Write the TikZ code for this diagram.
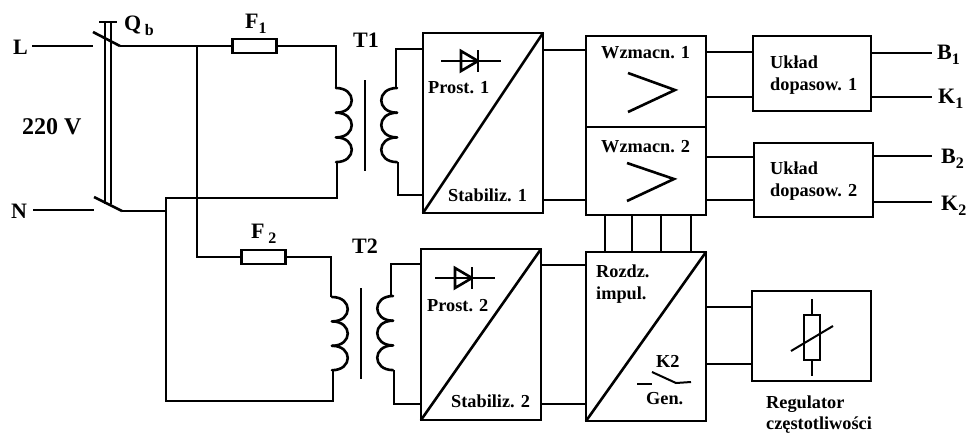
\documentclass[tikz,border=0pt]{standalone}
\usepackage{fontspec}
\setmainfont{Liberation Serif}[BoldFont={Liberation Serif Bold}]
\newcommand\subs[1]{\raisebox{-5pt}{\fontsize{16}{16}\selectfont #1}}
% x, y-top, control x, step
\newcommand\coildraw[4]{%
  \foreach \i in {0,1,2}{%
    \pgfmathsetmacro\ya{#2+\i*#4}\pgfmathsetmacro\yb{#2+(\i+1)*#4}%
    \draw[wire,line cap=round] (#1,\ya) .. controls (#3,\ya) and (#3,\yb) .. (#1,\yb);
  }}
\begin{document}
\begin{tikzpicture}[x=1pt,y=-1pt,
  wire/.style={line width=2.6pt,line join=miter},
  thin wire/.style={line width=2pt},
  blockbox/.style={draw,line width=2.8pt,inner sep=0pt,outer sep=0pt,fill=white},
  fusebox/.style={draw,line width=2.2pt,inner sep=0pt,outer sep=0pt,fill=white,minimum width=44pt,minimum height=14pt},
  big/.style={anchor=base west,inner sep=0pt,font=\fontsize{22}{22}\selectfont\bfseries},
  lab/.style={anchor=base west,inner sep=0pt,font=\fontsize{18.3}{18}\selectfont\bfseries}]
\useasboundingbox (0,0) rectangle (967,432);
% blocks
\node[blockbox,minimum width=120pt,minimum height=180pt] (pr1) at (483,123) {};
\node[blockbox,minimum width=120pt,minimum height=171pt] (pr2) at (481,334.5) {};
\node[blockbox,minimum width=120pt,minimum height=91pt] (wz1) at (646,81.5) {};
\node[blockbox,minimum width=120pt,minimum height=88pt] (wz2) at (646,171) {};
\node[blockbox,minimum width=120pt,minimum height=169pt] (roz) at (646,336.5) {};
\node[blockbox,minimum width=118pt,minimum height=75pt] (uk1) at (812,73.5) {};
\node[blockbox,minimum width=119pt,minimum height=74pt] (uk2) at (813.5,180) {};
\node[blockbox,minimum width=119pt,minimum height=90pt] (reg) at (811.5,336) {};
\draw[wire] (pr1.south west) -- (pr1.north east);
\draw[wire] (pr2.south west) -- (pr2.north east);
\draw[wire] (roz.south west) -- (roz.north east);
% fuses
\node[fusebox] (f1) at (254.5,46) {};
\node[fusebox] (f2) at (263.5,257) {};
% free ends
\coordinate (Lend) at (32,46);
\coordinate (Lfix) at (93,46);
\coordinate (Lpiv) at (120,46);
\coordinate (Lblade) at (93,32);
\coordinate (Nend) at (33,210);
\coordinate (Nfix) at (94,210);
\coordinate (Npiv) at (122,211);
\coordinate (Nblade) at (94,197);
\coordinate (j1) at (197,46);
\coordinate (j2) at (166,211);
% mains
\draw[wire] (Lend) -- (Lfix);
\draw[wire] (Lblade) -- (Lpiv);
\draw[wire] (Lpiv) -- (f1.west);
\draw[wire] (Nend) -- (Nfix);
\draw[wire] (Nblade) -- (Npiv);
\draw[wire] (Npiv) -- (j2);
% breaker ganging
\coordinate (qa) at (105,22); \coordinate (qb) at (111,22);
\draw[line width=1.8pt] (qa) -- (105,204);
\draw[line width=1.8pt] (qb) -- (111,204);
\draw[line width=1.8pt] (99,22) -- (117,22);
% T1 primary
\draw[wire] (f1.east) -- (336,46) -- (336,88);
\coildraw{336}{88}{357}{24.7}
\draw[wire] (337,162) -- (337,198) -- (166,198) -- (j2) -- (166,401) -- (333,401) -- (333,370);
\draw[wire] (j1) -- (197,257) -- (f2.west);
% T2 primary
\draw[wire] (f2.east) -- (331,257) -- (331,297);
\coildraw{332}{297}{353}{24.4}
% cores
\draw[line width=1.6pt] (365,80) -- (365,171);
\draw[line width=1.6pt] (361,288) -- (361,379);
% secondaries
\draw[wire] (pr1.west |- 0,49) -- (396,49) -- (396,88);
\coildraw{397}{88}{376}{24.7}
\draw[wire] (398,162) -- (398,195) -- (pr1.west |- 0,195);
\draw[wire] (pr2.west |- 0,264) -- (391,264) -- (391,296);
\coildraw{393}{296}{372}{24.7}
\draw[wire] (394,370) -- (394,404) -- (pr2.west |- 0,404);
% block interconnections
\draw[wire] (pr1.east |- 0,50) -- (wz1.west |- 0,50);
\draw[wire] (pr1.east |- 0,200) -- (wz2.west |- 0,200);
\draw[wire] (pr2.east |- 0,265) -- (roz.west |- 0,265);
\draw[wire] (pr2.east |- 0,404) -- (roz.west |- 0,404);
\draw[wire] (wz1.east |- 0,52) -- (uk1.west |- 0,52);
\draw[wire] (wz1.east |- 0,97) -- (uk1.west |- 0,97);
\draw[wire] (wz2.east |- 0,157) -- (uk2.west |- 0,157);
\draw[wire] (wz2.east |- 0,200) -- (uk2.west |- 0,200);
\foreach \x in {605,632,661,691}
  \draw[wire] (\x,0 |- wz2.south) -- (\x,0 |- roz.north);
\draw[wire] (roz.east |- 0,307) -- (reg.west |- 0,307);
\draw[wire] (roz.east |- 0,364) -- (reg.west |- 0,364);
% outputs
\coordinate (b1) at (932,53); \coordinate (k1) at (932,97);
\coordinate (b2) at (932,156); \coordinate (k2) at (932,202);
\draw[wire] (uk1.east |- b1) -- (b1);
\draw[wire] (uk1.east |- k1) -- (k1);
\draw[wire] (uk2.east |- b2) -- (b2);
\draw[wire] (uk2.east |- k2) -- (k2);
% diodes
\draw[thin wire] (441,61) -- (501,61);
\draw[wire] (461,51) -- (478,61) -- (461,71) -- cycle;
\draw[thin wire] (478,50) -- (478,72);
\draw[thin wire] (435,278) -- (495,278);
\draw[wire] (455,268) -- (472,278) -- (455,288) -- cycle;
\draw[thin wire] (472,267) -- (472,289);
% amplifier symbols
\draw[wire] (628,73) -- (675,90) -- (628,112);
\draw[wire] (627,163) -- (674,179) -- (627,201);
% K2 contact
\draw[line width=2.8pt] (637,384) -- (652,384);
\draw[thin wire] (652,372) -- (676,383) -- (691,382);
% variable resistor
\node[draw,line width=2.4pt,inner sep=0pt,outer sep=0pt,minimum width=16pt,minimum height=45pt] (res) at (812,337.5) {};
\coordinate (rt) at (812,299); \coordinate (rb) at (812,376);
\draw[wire] (rt) -- (res.north);
\draw[wire] (res.south) -- (rb);
\draw[thin wire] (791,351) -- (833,326);
% texts
\node[big] (tL) at (13,54) {L};
\node[big] (tN) at (11,218) {N};
\node[big,font=\fontsize{24}{24}\selectfont\bfseries] (t220) at (22,134) {220 V};
\node[big] (tQ) at (124,30) {Q\,\subs{b}};
\node[big] (tF1) at (245,28) {F\subs{1}};
\node[big] (tF2) at (251,238) {F\,\subs{2}};
\node[big] (tT1) at (353,47) {T1};
\node[big] (tT2) at (352,253) {T2};
\node[big] (tB1) at (937,59) {B\subs{1}};
\node[big] (tK1) at (938,103) {K\subs{1}};
\node[big] (tB2) at (941,163) {B\subs{2}};
\node[big] (tK2) at (941,210) {K\subs{2}};
\node[lab] (p1) at (428,93) {Prost. 1};
\node[lab] (s1) at (448,201) {Stabiliz. 1};
\node[lab] (p2) at (427,311) {Prost. 2};
\node[lab] (s2) at (451,407) {Stabiliz. 2};
\node[lab] (w1) at (601,58) {Wzmacn. 1};
\node[lab] (w2) at (601,152) {Wzmacn. 2};
\node[lab] (r1) at (596,277) {Rozdz.};
\node[lab] (r2) at (596,299) {impul.};
\node[lab] (tk2) at (656,367) {K2};
\node[lab] (tgen) at (646,404) {Gen.};
\node[lab] (u1) at (770,68) {Układ};
\node[lab] (d1) at (770,90) {dopasow. 1};
\node[lab] (u2) at (770,174) {Układ};
\node[lab] (d2) at (770,196) {dopasow. 2};
\node[lab] (rg1) at (766,408) {Regulator};
\node[lab] (rg2) at (766,429) {częstotliwości};
\end{tikzpicture}
\end{document}
